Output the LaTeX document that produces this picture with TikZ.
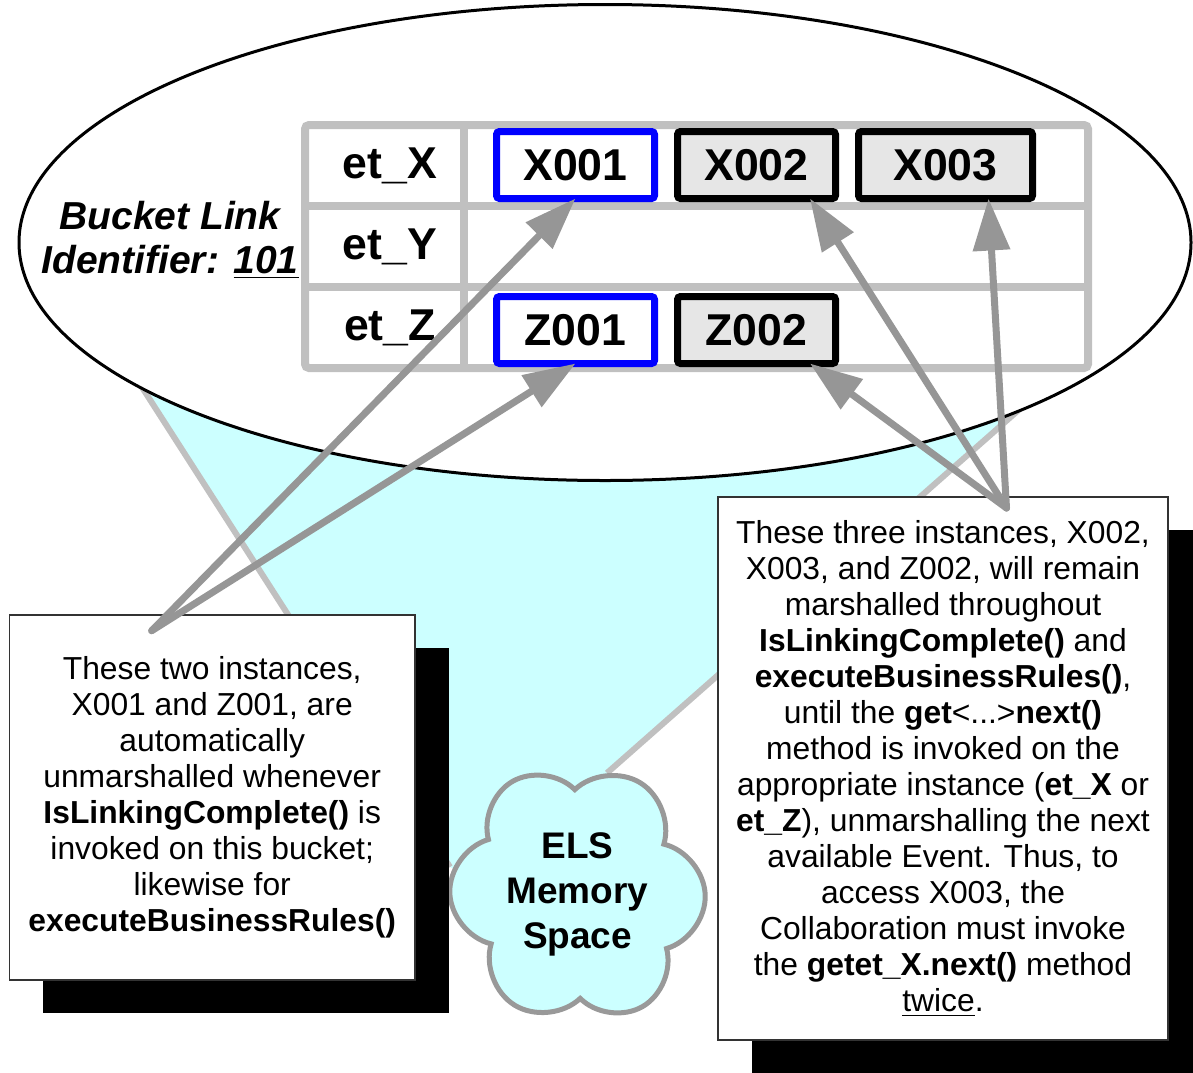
\documentclass[tikz,border=0pt]{standalone}
\usepackage{fontspec}
\setmainfont{Liberation Sans}
\usetikzlibrary{positioning,arrows.meta,shapes.symbols,shadows}

\definecolor{elscyan}{RGB}{204,255,255}
\definecolor{gridgray}{RGB}{192,192,192}
\definecolor{arrowgray}{RGB}{150,150,150}
\definecolor{cloudgray}{RGB}{153,153,153}
\definecolor{instgray}{RGB}{230,230,230}

\begin{document}
\begin{tikzpicture}[x=0.5pt,y=-0.5pt,
node distance=11.5pt,
inst/.style={draw,line width=3.5pt,rounded corners=1.5pt,outer sep=0pt,
inner sep=0pt,minimum width=79pt,minimum height=33.5pt,
font=\fontsize{22.3}{26}\selectfont\bfseries},
newinst/.style={inst,draw=blue},
oldinst/.style={inst,fill=instgray},
cell/.style={anchor=base,inner sep=0pt,
font=\fontsize{22.3}{26}\selectfont\bfseries},
note/.style={draw=black!80,line width=0.75pt,fill=white,align=center,
inner sep=0pt,font=\fontsize{15.9}{18}\selectfont,
drop shadow={shadow xshift=17pt,shadow yshift=-16.5pt,opacity=1,fill=black}},
rim/.style={draw=gridgray,line width=3pt},
link/.style={draw=arrowgray,line width=3.5pt,line cap=round,
-{Triangle[length=26pt,width=18pt]}}]

\useasboundingbox (0,0) rectangle (1193,1072);
\clip (0,0) rectangle (1193,1072);

\coordinate (lt) at (120,353);
\coordinate (lb) at (450,867);
\coordinate (rt) at (1030,400);
\coordinate (rb) at (607,773);
\coordinate (mid) at (577,930);

\fill[elscyan] (lt) -- (rt) -- (rb) -- (mid) -- (lb) -- cycle;
\draw[rim] (lt) -- (lb);
\draw[rim] (rt) -- (rb);

\draw[fill=white,line width=1.5pt] (605,242.5) ellipse [x radius=586,y radius=238];

\draw[gridgray,line width=4pt,rounded corners=2pt] (305,125) rectangle (1088,368);
\draw[gridgray,line width=4pt] (305,206) -- (1088,206) (305,287) -- (1088,287)
(464,125) -- (464,368);

\node[cell] (ex) at (390,178) {et\_X};

\node[cell] (ey) at (390,259) {et\_Y};

\node[cell] (ez) at (390,340) {et\_Z};

\node[newinst] (x1) at (575.5,165) {X001};

\node[oldinst,right=of x1] (x2) {X002};

\node[oldinst,right=of x2,minimum width=87pt] (x3) {X003};

\node[newinst,below=49pt of x1] (z1) {Z001};

\node[oldinst,right=of z1] (z2) {Z002};

\node[align=center,font=\fontsize{19.5}{22}\selectfont\bfseries\itshape]
(bucket) at (170,240) {Bucket Link\\Identifier: \underline{101}};

\node[cloud,cloud puffs=6,cloud puff arc=150,rotate=30,
draw=cloudgray,line width=2.5pt,fill=elscyan,minimum width=127pt,
minimum height=130pt] (els) at (577.5,894) {};

\node[align=center,font=\fontsize{18.5}{22.5}\selectfont\bfseries]
(elslabel) at (els.center) {ELS\\Memory\\Space};

\node[note,minimum width=202.8pt,minimum height=182.5pt] (lnote) at (212.2,797.5)
{These two instances,\\X001 and Z001, are\\automatically\\unmarshalled whenever\\
\textbf{IsLinkingComplete()} is\\invoked on this bucket;\\likewise for\\
\textbf{executeBusinessRules()}};

\node[note,minimum width=225pt,minimum height=271.5pt] (rnote) at (943,768.5)
{These three instances, X002,\\X003, and Z002, will remain\\marshalled throughout\\
\textbf{IsLinkingComplete()} and\\\textbf{executeBusinessRules()},\\
until the \textbf{get}<...>\textbf{next()}\\method is invoked on the\\
appropriate instance (\textbf{et\_X} or\\\textbf{et\_Z}), unmarshalling the next\\
available Event. Thus, to\\access X003, the\\Collaboration must invoke\\
the \textbf{getet\_X.next()} method\\\underline{twice}.};

\coordinate (lsrc) at (151.7,630.7);
\coordinate (rsrc) at (1006.5,508);

\draw[link] (lsrc) -- (x1.south);
\draw[link] (lsrc) -- (z1.south);
\draw[link] (rsrc) -- ([xshift=26.75pt]x2.south);
\draw[link] (rsrc) -- ([xshift=21.5pt]x3.south);
\draw[link] (rsrc) -- ([xshift=26.75pt]z2.south);

\end{tikzpicture}
\end{document}
